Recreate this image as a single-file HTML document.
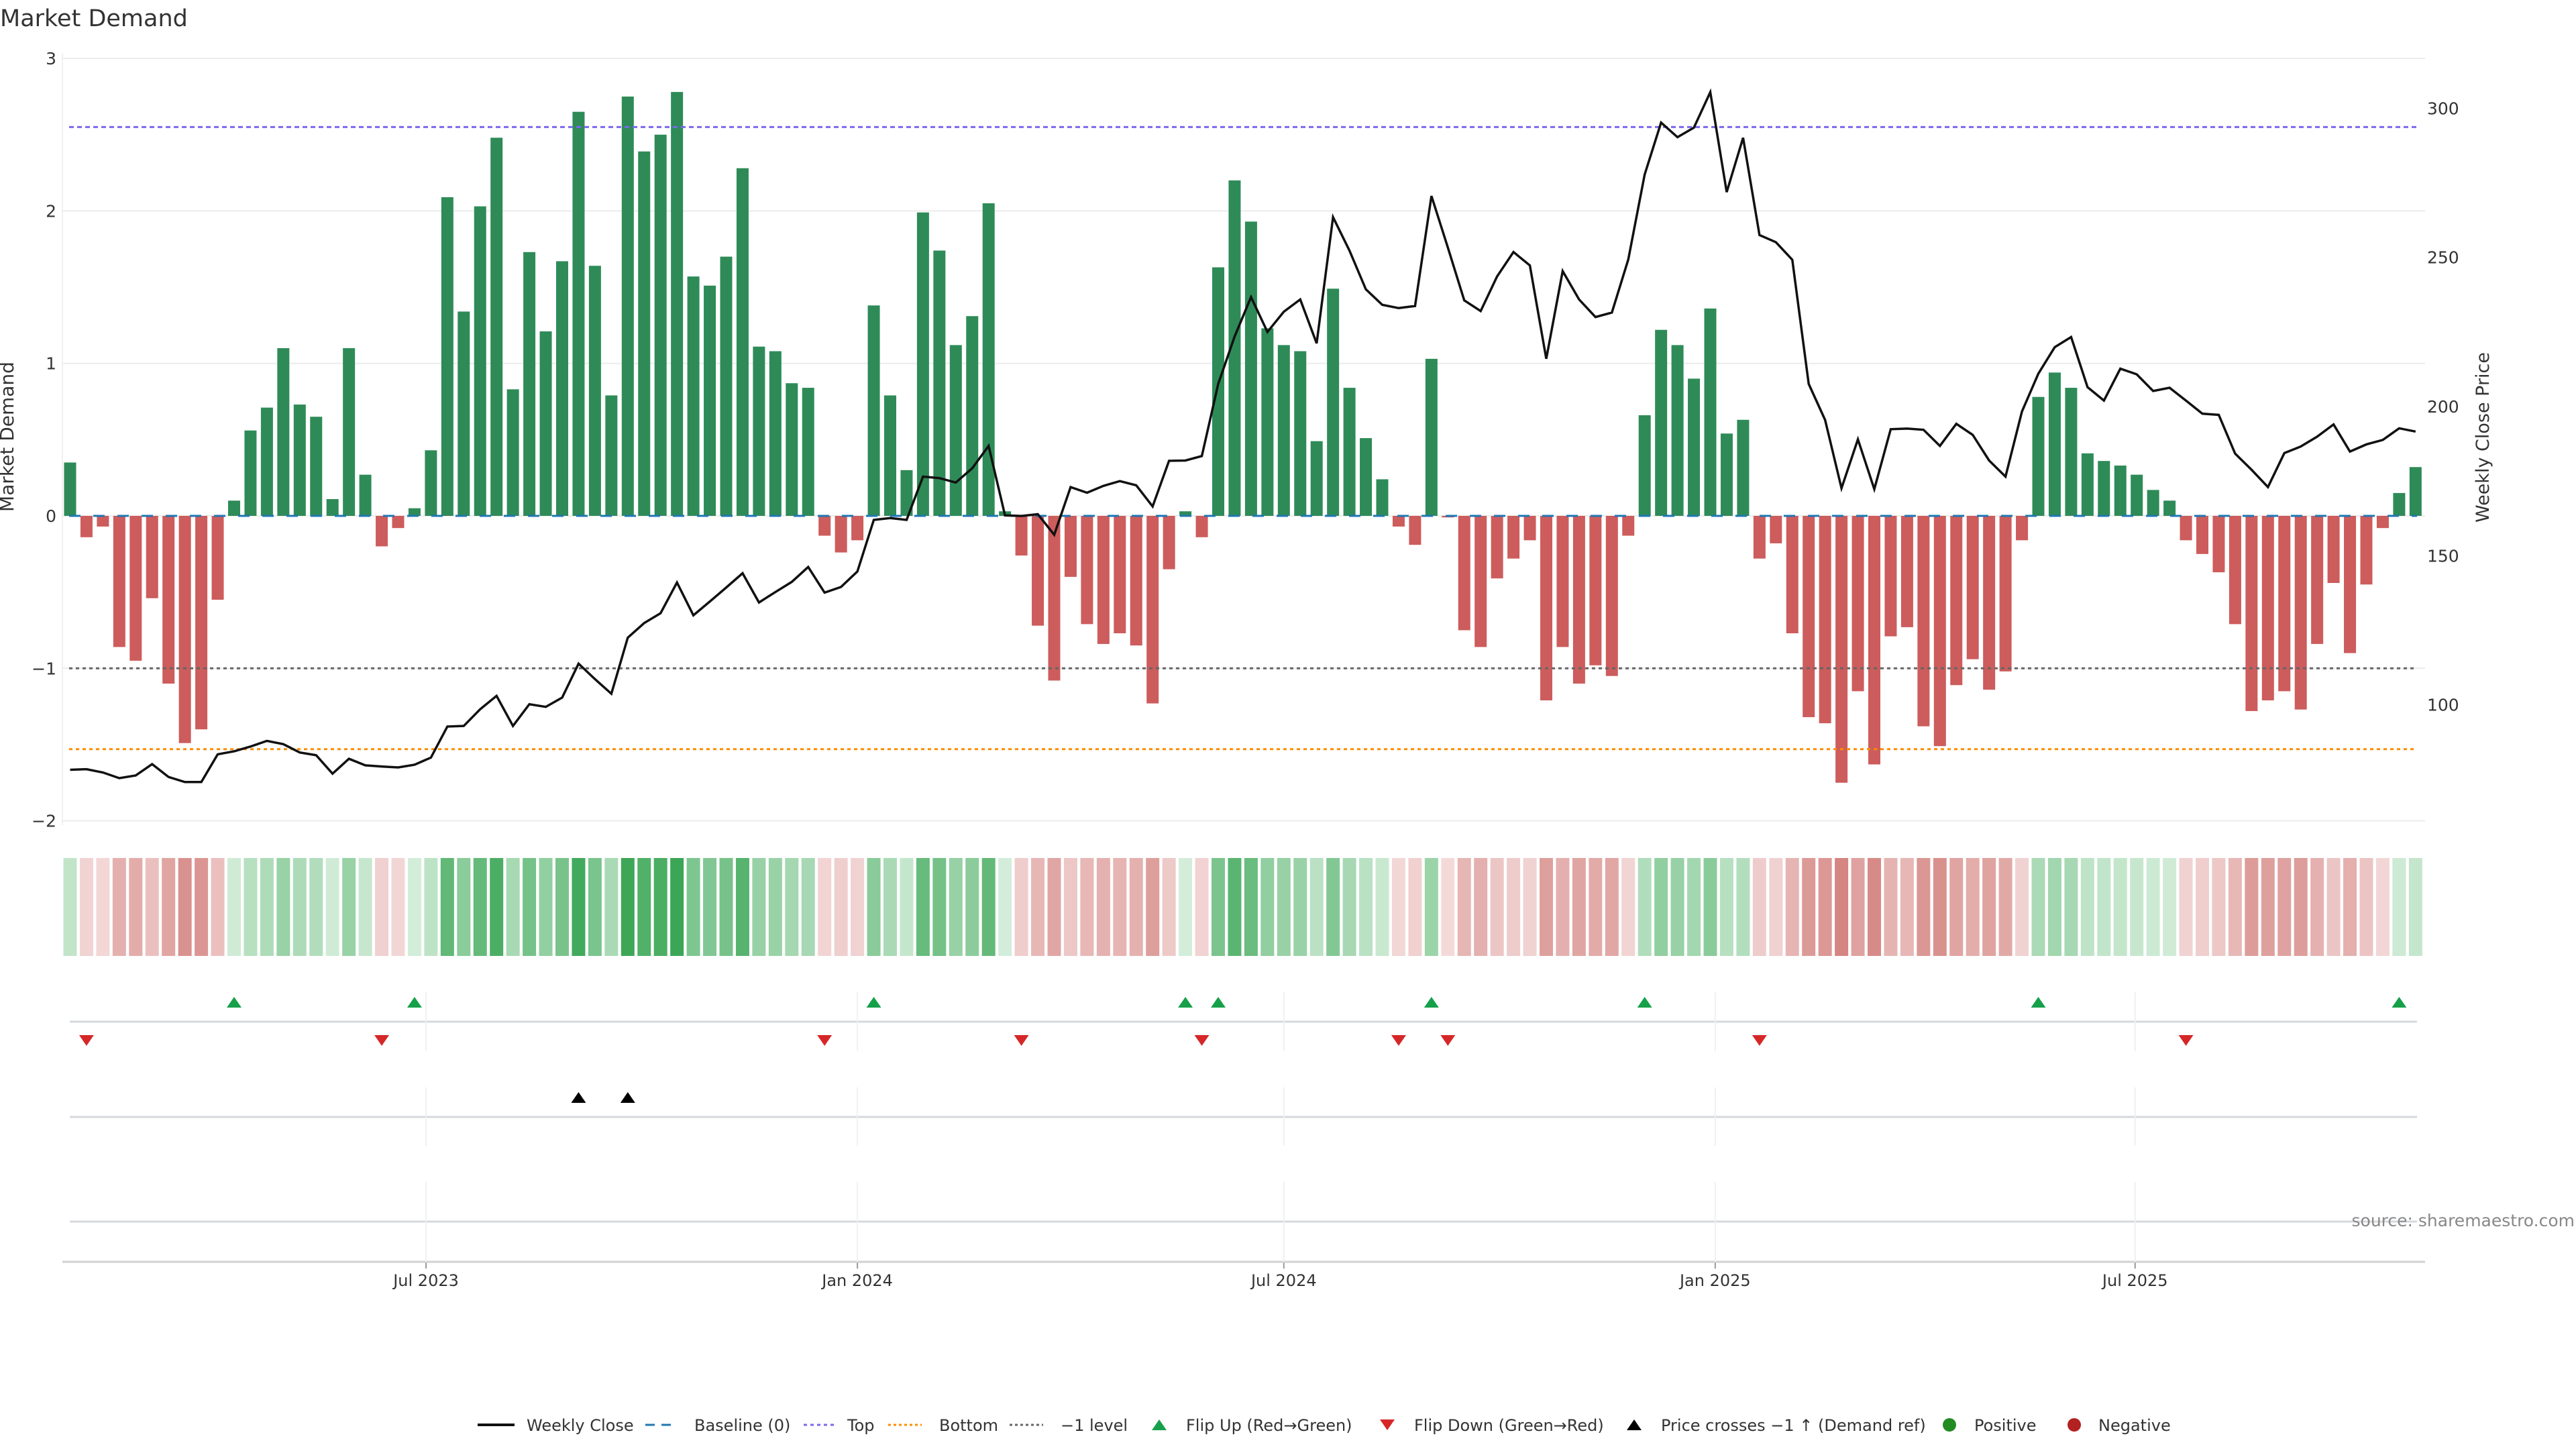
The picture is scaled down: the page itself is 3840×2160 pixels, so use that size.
<!DOCTYPE html>
<html><head><meta charset="utf-8"><style>
html,body{margin:0;padding:0;background:#fff;}
svg{display:block;font-family:"DejaVu Sans","Liberation Sans",sans-serif;}
</style></head><body>
<svg id="chart" xmlns="http://www.w3.org/2000/svg" width="3840" height="2160" viewBox="0 0 3840 2160">
<rect width="3840" height="2160" fill="#fff"/>
<text x="0" y="39" font-size="35" fill="#333">Market Demand</text>
<g id="grid"></g>
<g id="bars"></g>
<g id="refs"></g>
<g id="price"></g>
<g id="axes"></g>
<g id="heat"></g>
<g id="markers"></g>
<text x="20" y="651" font-size="28" fill="#333" text-anchor="middle" transform="rotate(-90 20 651)">Market Demand</text>
<text x="3710" y="652" font-size="27" fill="#333" text-anchor="middle" transform="rotate(-90 3710 652)">Weekly Close Price</text>
<text x="3838" y="1828" font-size="25" fill="#888" text-anchor="end">source: sharemaestro.com</text>
<g id="legend"></g>
</svg>
<script>
const demand = [0.35,-0.14,-0.07,-0.86,-0.95,-0.54,-1.10,-1.49,-1.40,-0.55,0.10,0.56,0.71,1.10,0.73,0.65,0.11,1.10,0.27,-0.20,-0.08,0.05,0.43,2.09,1.34,2.03,2.48,0.83,1.73,1.21,1.67,2.65,1.64,0.79,2.75,2.39,2.50,2.78,1.57,1.51,1.70,2.28,1.11,1.08,0.87,0.84,
-0.13,-0.24,-0.16,1.38,0.79,0.30,1.99,1.74,1.12,1.31,2.05,0.03,-0.26,-0.72,-1.08,-0.40,-0.71,-0.84,-0.77,-0.85,-1.23,-0.35,0.03,-0.14,1.63,2.20,1.93,1.23,1.12,1.08,0.49,1.49,0.84,0.51,0.24,-0.07,-0.19,1.03,-0.01,-0.75,-0.86,-0.41,-0.28,-0.16,-1.21,-0.86,-1.10,-0.98,-1.05,-0.13,0.66,1.22,1.12,
0.90,1.36,0.54,0.63,-0.28,-0.18,-0.77,-1.32,-1.36,-1.75,-1.15,-1.63,-0.79,-0.73,-1.38,-1.51,-1.11,-0.94,-1.14,-1.02,-0.16,0.78,0.94,0.84,0.41,0.36,0.33,0.27,0.17,0.10,-0.16,-0.25,-0.37,-0.71,-1.28,-1.21,-1.15,-1.27,-0.84,-0.44,-0.90,-0.45,-0.08,0.15,0.32];
const price = [78.2,78.4,77.3,75.4,76.3,80.1,75.8,74.1,74.1,83.4,84.4,86.0,87.9,86.8,84.0,83.1,76.9,81.9,79.7,79.3,79.0,79.9,82.3,92.7,92.9,98.5,103.0,92.9,100.2,99.3,102.4,113.8,108.6,103.7,122.5,127.4,130.7,141.0,130.0,134.6,139.3,144.1,134.3,137.8,141.2,146.2,137.6,139.5,144.7,
162.0,162.6,162.0,176.5,176.0,174.5,179.3,186.8,163.5,163.3,163.9,157.0,173.0,171.1,173.4,175.0,173.6,166.5,181.8,181.9,183.4,207.6,223.5,236.7,225.0,231.8,235.9,221.2,263.5,252.3,239.3,234.1,233.0,233.7,270.6,253.3,235.6,232.0,243.6,251.8,247.3,216.0,245.4,235.9,230.0,231.5,249.3,277.8,295.2,290.3,
293.5,305.4,271.9,290.1,257.5,255.1,249.2,207.6,195.5,172.6,189.0,172.3,192.4,192.6,192.2,186.8,194.2,190.5,181.9,176.5,198.3,211.0,219.9,223.3,206.5,202.0,212.7,210.8,205.2,206.3,202.0,197.6,197.2,184.2,178.8,173.0,184.4,186.6,189.9,194.0,184.9,187.3,188.8,192.7,191.6];
const leftTicks = [3,2,1,0,-1,-2];
const rightTicks = [100,150,200,250,300];
const dateTickLabels = ["Jul 2023","Jan 2024","Jul 2024","Jan 2025","Jul 2025"];
const dateTickWeeks = [21.7,48.0,74.0,100.3,125.9];
const topLevel = 2.55, bottomLevel = -1.53, minusLevel = -1;

const NS="http://www.w3.org/2000/svg";
function mk(tag, attrs, parent){const e=document.createElementNS(NS,tag);for(const k in attrs)e.setAttribute(k,attrs[k]);parent.appendChild(e);return e;}
const X0=104.5, DX=24.45;
const x = i => X0 + i*DX;
const yL = v => 769 - v*227.3;
const yR = p => 606 - (p-200)*4.446;
const pInv = y => 200 - (y-606)/4.446;
const PL=93, PR=3615;
const fmt = v => v<0 ? "\u2212"+Math.abs(v) : String(v);

const grid=document.getElementById('grid'), axes=document.getElementById('axes');
leftTicks.forEach(t=>{
  const g=mk('line',{x1:PL,x2:PR,y1:yL(t),y2:yL(t),stroke:'#ececec','stroke-width':2},grid);
  
  
  const tx=mk('text',{x:84,y:yL(t)+9,'font-size':25,fill:'#333','text-anchor':'end'},axes);
  tx.textContent=fmt(t);
  
  
});
rightTicks.forEach(t=>{
  const tx=mk('text',{x:3618,y:yR(t)+9,'font-size':25,fill:'#333'},axes);
  tx.textContent=String(t);
  
  
});
const ax=mk('line',{x1:PL,x2:PL,y1:80,y2:1230,stroke:'#f0f0f0','stroke-width':2},axes);



// bars
const bars=document.getElementById('bars');
demand.forEach((v,i)=>{
  const y0=yL(0), y1=yL(v);
  const r=mk('rect',{x:x(i)-9,y:Math.min(y0,y1),width:18,height:Math.max(1,Math.abs(y1-y0)),fill:v>=0?'#2e8b57':'#cd5c5c'},bars);
  
  
});
// ref lines
const refs=document.getElementById('refs');
function ref(v,color,dash,name){
  const l=mk('line',{x1:PL+10,x2:PR-12,y1:yL(v),y2:yL(v),stroke:color,'stroke-width':3,'stroke-dasharray':dash},refs);
  
  
}
ref(0,'#1f77b4','17 19','baseline-zero');
ref(topLevel,'#7b68ee','7 5','top-level-line');
ref(bottomLevel,'#ff8c00','5 5','bottom-level-line');
ref(minusLevel,'#666','5 5','minus-one-level-line');

// price
const pg=document.getElementById('price');
const pl=mk('polyline',{points:price.map((p,i)=>x(i)+','+yR(p)).join(' '),fill:'none',stroke:'#111','stroke-width':3.5,'stroke-linejoin':'miter'},pg);



// heat strip
const heat=document.getElementById('heat');
function lerp(a,b,t){return Math.round(a+(b-a)*t);}
function col(v){
  if(v>=0){const t=Math.min(v/2.8,1);return `rgb(${lerp(213,58,t)},${lerp(238,166,t)},${lerp(219,85,t)})`;}
  const t=Math.min(-v/1.8,1);return `rgb(${lerp(243,212,t)},${lerp(218,131,t)},${lerp(218,127,t)})`;
}
demand.forEach((v,i)=>{
  const r=mk('rect',{x:x(i)-10,y:1279,width:20,height:146,fill:col(v)},heat);
  
  
});

// panels
const mg=document.getElementById('markers');
[1523,1665,1821].forEach(y=>{
  const l=mk('line',{x1:104,x2:3603,y1:y,y2:y,stroke:'#d5d8dc','stroke-width':3},mg);
  
  
});
dateTickWeeks.forEach((w,k)=>{
  [[1479,1567],[1621,1708],[1762,1881]].forEach(s=>{
    const g=mk('line',{x1:x(w),x2:x(w),y1:s[0],y2:s[1],stroke:'#eef0f3','stroke-width':2},mg);
    
    
  });
  const t=mk('line',{x1:x(w),x2:x(w),y1:1881,y2:1891,stroke:'#999','stroke-width':2},axes);
  
  
  const tx=mk('text',{x:x(w),y:1917,'font-size':24,fill:'#333','text-anchor':'middle'},axes);
  tx.textContent=dateTickLabels[k];
  
  
});
const xa=mk('line',{x1:PL,x2:PR,y1:1881,y2:1881,stroke:'#d0d0d0','stroke-width':3},axes);



function tri(cx,cy,up,color,name){
  const pts = up ? `${cx-11},${cy+8} ${cx+11},${cy+8} ${cx},${cy-8}` : `${cx-11},${cy-8} ${cx+11},${cy-8} ${cx},${cy+8}`;
  const p=mk('polygon',{points:pts,fill:color},mg);
  
  
}
for(let i=1;i<demand.length;i++){
  if(demand[i-1]<0 && demand[i]>=0) tri(x(i),1494,true,'#16a04a','flip-up-marker');
  if(demand[i-1]>=0 && demand[i]<0) tri(x(i),1551,false,'#d62728','flip-down-marker');
}
const thr=pInv(yL(minusLevel));
for(let i=1;i<price.length;i++){
  if(price[i-1]<thr && price[i]>=thr) tri(x(i),1636,true,'#000','price-cross-marker');
}

// legend
const lg=document.getElementById('legend');
const LY=2124;
function ltext(xp,s){const t=mk('text',{x:xp,y:LY+9,'font-size':24,fill:'#333'},lg);t.textContent=s;}
function lline(x1,x2,color,dash,w){const l=mk('line',{x1:x1,x2:x2,y1:LY,y2:LY,stroke:color,'stroke-width':w,'stroke-dasharray':dash},lg);}
lline(712,767,'#111','none',4);ltext(785,'Weekly Close');
lline(962,1010,'#1f77b4','14 10',3);ltext(1035,'Baseline (0)');
lline(1198,1245,'#7b68ee','5 5',3);ltext(1263,'Top');
lline(1324,1374,'#ff8c00','4 4',3);ltext(1400,'Bottom');
lline(1505,1555,'#666','4 4',3);ltext(1581,'\u22121 level');
function ltri(cx,up,color){const pts=up?`${cx-11},${LY+8} ${cx+11},${LY+8} ${cx},${LY-8}`:`${cx-11},${LY-8} ${cx+11},${LY-8} ${cx},${LY+8}`;const p=mk('polygon',{points:pts,fill:color},lg);}
ltri(1728,true,'#16a04a');ltext(1768,'Flip Up (Red\u2192Green)');
ltri(2068,false,'#d62728');ltext(2108,'Flip Down (Green\u2192Red)');
ltri(2436,true,'#000');ltext(2476,'Price crosses \u22121 \u2191 (Demand ref)');
const c1=mk('circle',{cx:2906,cy:LY,r:10,fill:'#228b22'},lg);
ltext(2943,'Positive');
const c2=mk('circle',{cx:3092,cy:LY,r:10,fill:'#b22222'},lg);
ltext(3128,'Negative');
</script>
</body></html>
